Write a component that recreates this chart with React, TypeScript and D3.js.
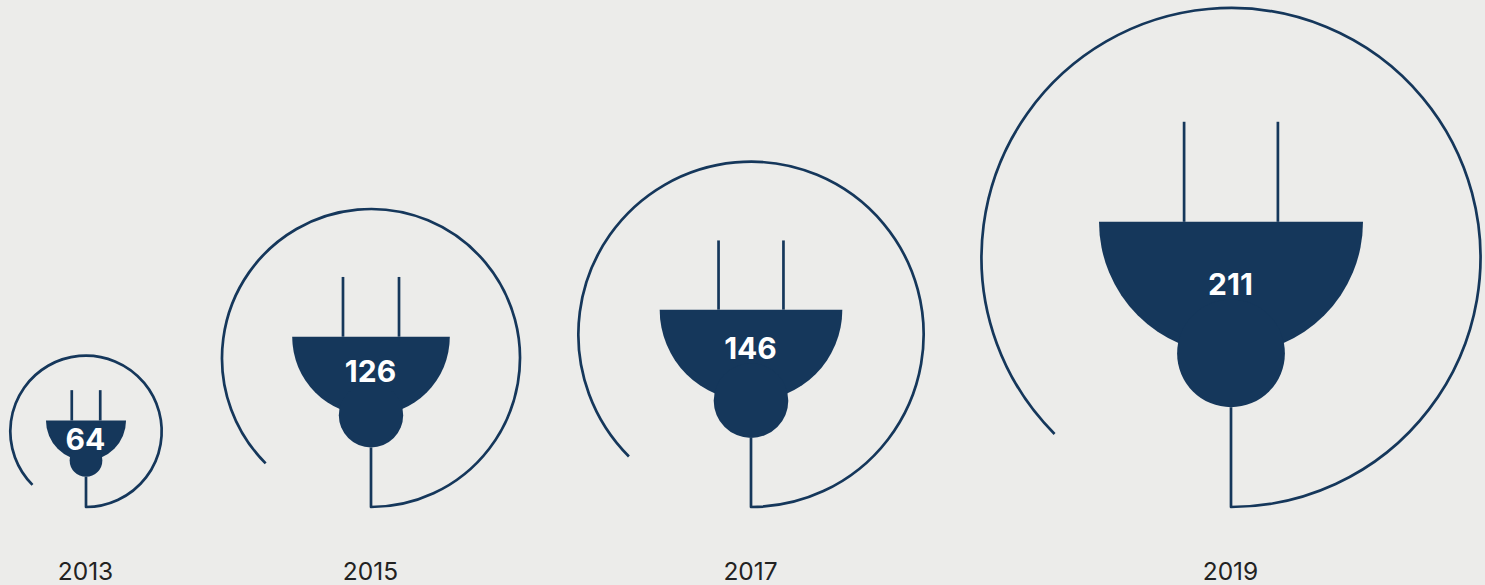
import React from "react";
import * as d3 from "d3";

const years = ["2013", "2015", "2017", "2019"];
const values = [64, 126, 146, 211];

const WIDTH = 1485;
const HEIGHT = 585;
const BASELINE_Y = 507;
const NAVY = "#15375b";
const FONT = "Inter, 'Noto Sans', sans-serif";
const STROKE = 2.7;

const radius = d3.scaleLinear().domain([0, 211]).range([0, 249.5]);
const centerX = d3.scaleOrdinal<string, number>().domain(years).range([86, 371, 751, 1231]);
const labelCenterY = d3.scaleOrdinal<string, number>().domain(years).range([439, 371, 348, 284]);

function Plug({ year, value }: { year: string; value: number }) {
  const r = radius(value);
  const cx = centerX(year);
  const cy = BASELINE_Y - r;
  const capTop = BASELINE_Y - 1.143 * r;
  const capR = 0.529 * r;
  const neckR = 0.216 * r;
  const neckBottom = BASELINE_Y - 0.4 * r;
  const prongDx = 0.188 * r;
  const prongTop = BASELINE_Y - 1.544 * r;

  const arcPath = d3.path();
  // Cable drops to the base, then the ring sweeps right, over the top, to the lower-left
  arcPath.moveTo(cx, neckBottom);
  arcPath.lineTo(cx, BASELINE_Y);
  arcPath.arc(cx, cy, r, Math.PI / 2, (3 * Math.PI) / 4, true);

  const cap = d3.path();
  cap.moveTo(cx - capR, capTop);
  cap.lineTo(cx + capR, capTop);
  cap.arc(cx, capTop, capR, 0, Math.PI, false);
  cap.closePath();

  return (
    <g>
      <path d={arcPath.toString()} fill="none" stroke={NAVY} strokeWidth={STROKE} strokeLinejoin="round" />
      <line x1={cx - prongDx} x2={cx - prongDx} y1={prongTop} y2={capTop} stroke={NAVY} strokeWidth={STROKE} />
      <line x1={cx + prongDx} x2={cx + prongDx} y1={prongTop} y2={capTop} stroke={NAVY} strokeWidth={STROKE} />
      <path d={cap.toString()} fill={NAVY} />
      <circle cx={cx} cy={neckBottom - neckR} r={neckR} fill={NAVY} />
      <text x={cx - 0.5} y={labelCenterY(year)} dy="0.36em" textAnchor="middle" fill="#fff" fontSize={30} fontWeight={700} fontFamily={FONT}>
        {value}
      </text>
      <text x={cx - 0.5} y={571} dy="0.36em" textAnchor="middle" fill="#222" fontSize={24.5} fontWeight={400} fontFamily={FONT}>
        {year}
      </text>
    </g>
  );
}

export default function App() {
  return (
    <svg
      width={WIDTH}
      height={HEIGHT}
      viewBox={`0 0 ${WIDTH} ${HEIGHT}`}
      style={{ position: "fixed", left: 0, top: 0, background: "#ececea", display: "block" }}
    >
      {years.map((y, i) => (
        <Plug key={y} year={y} value={values[i]} />
      ))}
    </svg>
  );
}
